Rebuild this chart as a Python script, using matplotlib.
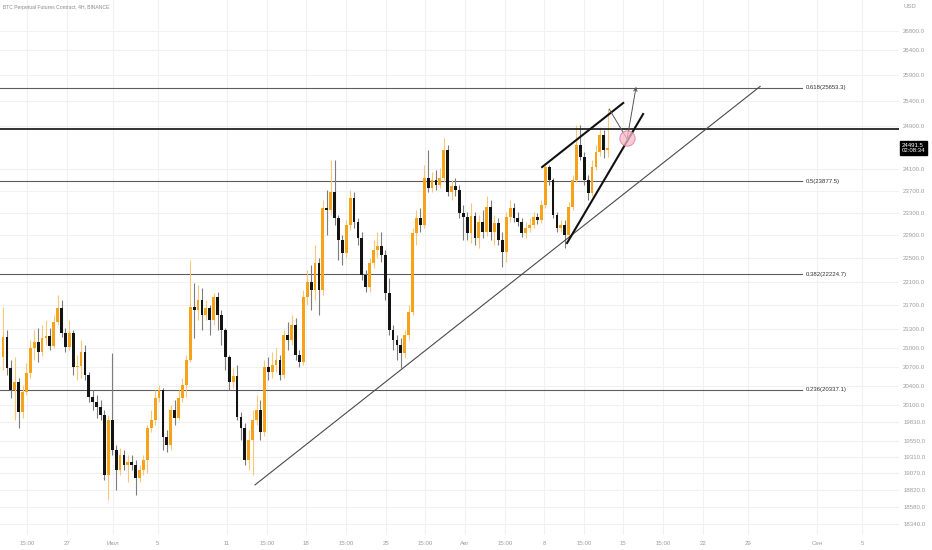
import numpy as np
import matplotlib
matplotlib.use("Agg")
import matplotlib.pyplot as plt
from matplotlib.ticker import NullLocator
import matplotlib.transforms as mtransforms

# 4H candles, open of each bar = previous close
first_open = 20855
closes = [21180, 20680, 20330, 20460, 19990, 20300, 20600, 21000, 21100, 20935,
          21160, 21195, 21035, 21425, 21655, 21245, 21015, 21245, 20695, 20710,
          20935, 20570, 20225, 20145, 20070, 19945, 19045, 19870, 19415, 19120,
          19340, 19195, 19235, 19195, 19000, 19120, 19265, 19745, 19870, 20205,
          20330, 19610, 19490, 20020, 19900, 20205, 20410, 20805, 21670, 21620,
          21790, 21540, 21655, 21455, 21840, 21540, 21290, 20855, 20460, 20555,
          19915, 19745, 19265, 19565, 19870, 20020, 19685, 20695, 20615, 20725,
          20805, 20570, 21210, 21130, 21375, 20890, 20775, 21840, 22095, 21960,
          22420, 21960, 23385, 23350, 23675, 23210, 22820, 22590, 23085, 23565,
          23135, 22855, 22215, 22010, 22420, 22645, 22715, 22555, 21905, 21290,
          21130, 21050, 20920, 21210, 21590, 22940, 23210, 23085, 23935, 23750,
          23895, 23805, 23935, 24455, 23675, 23785, 23715, 23295, 23225, 22940,
          23245, 22855, 23135, 22960, 23405, 22960, 23120, 22820, 22610, 23225,
          23385, 23210, 23135, 22940, 23030, 23085, 23225, 23170, 23440, 24135,
          23895, 23260, 23030, 23085, 22905, 23405, 23895, 24545, 24320, 23895,
          23660, 24135, 24415, 24740, 24455, 24491.5]
highs = [21670, 21290, 20805, 20855, 20520, 20410, 20760, 21130, 21290, 21325,
         21375, 21455, 21325, 21540, 21875, 21790, 21325, 21455, 21290, 20890,
         21130, 21050, 20615, 20330, 20255, 20175, 20020, 19945, 20920, 19490,
         19445, 19415, 19340, 19340, 19265, 19195, 19340, 19790, 20020, 20330,
         20410, 20365, 19715, 20100, 20175, 20330, 20520, 20890, 22470, 22075,
         22045, 21990, 21790, 21705, 21905, 21925, 21620, 21325, 20890, 20680,
         20725, 19990, 19820, 19715, 20020, 20255, 20175, 20805, 20855, 20935,
         21000, 20890, 21290, 21425, 21540, 21490, 20970, 21960, 22300, 22385,
         22730, 22505, 23530, 23715, 24265, 24265, 23260, 22905, 23170, 23715,
         23675, 23210, 22960, 22300, 22505, 22820, 22960, 22960, 22645, 22160,
         21375, 21210, 21160, 21290, 21705, 23030, 23350, 23385, 24175, 24455,
         24045, 24080, 24115, 24680, 24545, 23895, 23935, 23805, 23440, 23315,
         23475, 23315, 23260, 23350, 23605, 23530, 23260, 23210, 22960, 23315,
         23530, 23475, 23315, 23210, 23135, 23210, 23315, 23295, 23530, 24175,
         24175, 23935, 23315, 23170, 23170, 23495, 23990, 24930, 24930, 24415,
         23990, 24265, 24545, 24890, 24835, 25235]
lows = [20650, 20570, 20205, 19870, 19745, 19900, 20255, 20520, 20805, 20775,
        20870, 21050, 20970, 21000, 21375, 21180, 20935, 20970, 20570, 20490,
        20520, 20490, 20145, 20020, 19900, 19870, 18970, 18685, 19340, 18825,
        19045, 19120, 18945, 19120, 18755, 18945, 19045, 19075, 19685, 19790,
        20145, 19415, 19385, 19415, 19790, 19870, 20145, 20225, 20775, 21160,
        21455, 21290, 21455, 21210, 21375, 21290, 21050, 20650, 20330, 20365,
        19870, 19565, 19195, 19120, 19045, 19790, 19565, 19625, 20490, 20520,
        20615, 20490, 20520, 20970, 21050, 20805, 20695, 20725, 21705, 21620,
        21790, 21540, 21875, 22905, 23260, 23085, 22470, 22385, 22505, 22995,
        23030, 22730, 22125, 21925, 21925, 22330, 22505, 22435, 21790, 21210,
        20970, 20805, 20680, 20840, 21130, 21540, 22730, 22960, 23030, 23675,
        23675, 23715, 23750, 23860, 23605, 23530, 23605, 23210, 22820, 22820,
        22765, 22730, 22680, 22855, 22890, 22820, 22730, 22730, 22350, 22435,
        23135, 23135, 23065, 22870, 22855, 22960, 23030, 23100, 23120, 23385,
        23805, 23210, 22960, 22960, 22680, 22820, 23350, 23860, 24265, 23805,
        23530, 23605, 24080, 24340, 24305, 24320]

fib_ratios = ["0.618", "0.5", "0.382", "0.236"]
fib_prices = [25653.3, 23877.5, 22224.7, 20337.1]
resistance = 24850
last_price = 24491.5
countdown = "02:08:34"

y_ticks = [26800, 26400, 25900, 25400, 24900, 24100, 23700, 23300, 22900, 22500,
           22100, 21700, 21300, 21000, 20700, 20400, 20100, 19830, 19550, 19310,
           19070, 18820, 18580, 18340]
x_tick_pos = [6.15, 16.4, 28.2, 39.7, 57.4, 67.7, 77.7, 87.9, 98.2, 108.2,
              118.5, 128.7, 138.7, 149.0, 159.0, 169.2, 179.5, 191.0, 208.7, 220.3]
x_tick_labels = ["15:00", "27", "Июл", "5", "11", "15:00", "18", "15:00", "25", "15:00",
                 "Авг", "15:00", "8", "15:00", "15", "15:00", "22", "29", "Сен", "5"]

# drawings (bar index, price)
trend_long = ([64.6, 194.1], [18900, 25680])
wedge_top = ([138.2, 159.0], [24135, 25355])
wedge_bottom = ([144.6, 164.1], [22765, 25140])
path_down = ([155.4, 160.0], [25237, 24661])
path_up = ([160.0, 162.3], [24661, 25672])
circle_pt = (159.9, 24680)
fib_end = 204.9

UP = "#f7a21b"
UP_WICK = "#f8c878"
DOWN = "#131313"
DOWN_WICK = "#7d7d7d"
GRID = "#f0f1f3"
TXT = "#9a9da6"


def main():
    plt.rcParams["font.family"] = ["Liberation Sans", "DejaVu Sans"]
    fig = plt.figure(figsize=(9.32, 5.5), dpi=100)
    ax = fig.add_axes([0, 15 / 550, 899 / 932, 535 / 550])
    ax.set_yscale("log")

    C = np.array(closes, dtype=float)
    O = np.array([first_open] + closes[:-1], dtype=float)
    H = np.array(highs, dtype=float)
    L = np.array(lows, dtype=float)
    x = np.arange(len(C))
    up = C >= O

    ax.vlines(x[up], L[up], H[up], color=UP_WICK, lw=0.8, zorder=3)
    ax.vlines(x[~up], L[~up], H[~up], color=DOWN_WICK, lw=0.8, zorder=3)
    ax.bar(x[up], (C - O)[up], bottom=O[up], width=0.72, color=UP, lw=0, zorder=4)
    ax.bar(x[~up], (O - C)[~up], bottom=C[~up], width=0.72, color=DOWN, lw=0, zorder=4)

    # fibonacci levels
    for r, p in zip(fib_ratios, fib_prices):
        ax.plot([-1, fib_end], [p, p], color="#5d5d5d", lw=0.8, zorder=2)
        ax.text(fib_end + 1.0, p, f"{r}({p:.1f})", fontsize=4.3, color="#333333",
                va="center", ha="left")

    ax.axhline(resistance, color="#222222", lw=1.3, zorder=5)

    ax.plot(*trend_long, color="#4a4a4a", lw=0.8, zorder=5)
    ax.plot(*wedge_top, color="#111111", lw=1.5, zorder=6)
    ax.plot(*wedge_bottom, color="#111111", lw=1.5, zorder=6)
    ax.plot(*path_down, color="#555555", lw=0.7, zorder=6)
    ax.annotate("", xy=(path_up[0][1], path_up[1][1]), xytext=(path_up[0][0], path_up[1][0]),
                arrowprops=dict(arrowstyle="->", color="#555555", lw=0.7,
                                shrinkA=0, shrinkB=0, mutation_scale=6), zorder=6)
    ax.scatter([circle_pt[0]], [circle_pt[1]], s=120, facecolor="#f7b9cc", alpha=0.75,
               edgecolor="#e57c9c", lw=0.8, zorder=7)

    ax.set_xlim(-0.77, 229.7)
    ax.set_ylim(18185, 27445)
    ax.yaxis.set_minor_locator(NullLocator())
    ax.set_yticks(y_ticks)
    ax.set_yticklabels([f"{v:.1f}" for v in y_ticks])
    ax.set_xticks(x_tick_pos)
    ax.set_xticklabels(x_tick_labels)
    ax.yaxis.tick_right()
    ax.tick_params(axis="both", length=0, labelsize=4.4, colors=TXT)
    ax.tick_params(axis="y", pad=3)
    ax.tick_params(axis="x", pad=4)
    ax.grid(True, color=GRID, lw=0.8, zorder=0)
    ax.set_axisbelow(True)
    for s in ax.spines.values():
        s.set_visible(False)

    trans = mtransforms.blended_transform_factory(ax.transAxes, ax.transData)
    ax.text(1.003, last_price, f"{last_price}\n{countdown}", transform=trans,
            fontsize=4.3, color="white", ha="left", va="center", linespacing=1.1,
            bbox=dict(boxstyle="square,pad=0.25", fc="black", ec="black"), clip_on=False)

    fig.text(3 / 932, 1 - 7 / 550, "BTC Perpetual Futures Contract, 4H, BINANCE",
             fontsize=3.6, color="#8a8a8a", ha="left", va="center")
    fig.text(903 / 932, 1 - 7 / 550, "USD", fontsize=4.3, color=TXT, ha="left", va="center")

    fig.savefig("out.png", dpi=100)


if __name__ == "__main__":
    main()
